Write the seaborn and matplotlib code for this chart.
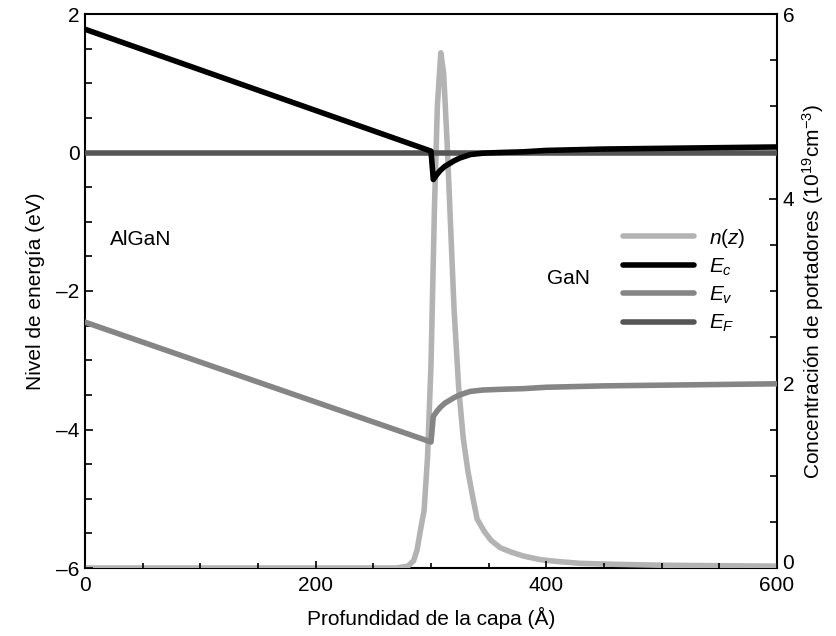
import matplotlib
matplotlib.use("Agg")
import matplotlib.pyplot as plt
import matplotlib.transforms as mtransforms
from matplotlib.ticker import MultipleLocator, FuncFormatter
import seaborn as sns

# Band edges (eV) versus depth (Å)
depth_band = [0, 300, 302, 305, 308, 312, 316, 320, 325, 334, 345, 360,
              380, 400, 450, 500, 550, 600]
ec = [1.78, 0.02, -0.39, -0.32, -0.26, -0.20, -0.16, -0.12, -0.08, -0.03,
      -0.01, 0.00, 0.01, 0.03, 0.05, 0.06, 0.07, 0.08]
ev = [-2.45, -4.18, -3.81, -3.74, -3.68, -3.62, -3.58, -3.54, -3.50, -3.45,
      -3.43, -3.42, -3.41, -3.39, -3.37, -3.36, -3.35, -3.34]
depth_ef = [0, 600]
ef = [0.0, 0.0]

# Electron concentration (1e19 cm^-3) versus depth (Å)
depth_n = [0, 270, 280, 285, 288, 291, 294, 297, 300, 303, 305.5, 308.5, 311,
           314, 317, 320, 324, 328, 332, 336, 340, 346, 352, 360, 370, 380,
           395, 410, 430, 460, 500, 550, 600]
n_z = [0, 0, 0.02, 0.08, 0.2, 0.42, 0.62, 1.2, 2.2, 3.9, 5.0, 5.58, 5.35,
       4.6, 3.7, 2.8, 1.95, 1.4, 1.05, 0.78, 0.53, 0.40, 0.30, 0.22, 0.17,
       0.13, 0.09, 0.07, 0.05, 0.04, 0.03, 0.025, 0.02]

labels = ["$n(z)$", "$E_c$", "$E_v$", "$E_F$"]
colors = ["#b3b3b3", "#000000", "#858585", "#555555"]
conc_ticks = [0, 2, 4, 6]

sns.set_theme(style="white")
plt.rcParams["font.family"] = ["Liberation Sans", "DejaVu Sans"]
plt.rcParams["mathtext.fontset"] = "custom"
plt.rcParams["mathtext.rm"] = "Liberation Sans"
plt.rcParams["mathtext.it"] = "Liberation Sans:italic"
for key in ("text.color", "axes.labelcolor", "xtick.color", "ytick.color",
            "axes.edgecolor"):
    plt.rcParams[key] = "black"

fs = 15
fig = plt.figure(figsize=(8.37, 6.36), dpi=100)
ax = fig.add_axes([85 / 837, 1 - 568 / 636, 692 / 837, 554 / 636])
ax2 = ax.twinx()
ax.set_zorder(ax2.get_zorder() + 1)
ax.patch.set_visible(False)

lw = 3.0
sns.lineplot(x=depth_n, y=n_z, ax=ax2, color=colors[0], lw=lw,
             estimator=None, label=labels[0], zorder=3)
sns.lineplot(x=depth_ef, y=ef, ax=ax, color=colors[3], lw=3.4,
             estimator=None, label=labels[3], zorder=2)
sns.lineplot(x=depth_band, y=ev, ax=ax, color=colors[2], lw=lw,
             estimator=None, label=labels[2], zorder=3)
sns.lineplot(x=depth_band, y=ec, ax=ax, color=colors[1], lw=lw,
             estimator=None, label=labels[1], zorder=4)

ax.set_xlim(0, 600)
ax.set_ylim(-6, 2)
ax2.set_ylim(0, 6)

for s in ax.spines.values():
    s.set_visible(False)
for s in ax2.spines.values():
    s.set_visible(True)
    s.set_color("black")
    s.set_linewidth(1.5)

ax.xaxis.set_major_locator(MultipleLocator(200))
ax.xaxis.set_minor_locator(MultipleLocator(50))
ax.yaxis.set_major_locator(MultipleLocator(2))
ax.yaxis.set_minor_locator(MultipleLocator(0.5))
ax.yaxis.set_major_formatter(
    FuncFormatter(lambda v, _: f"{v:.0f}".replace("-", "\u2013")))
ax2.set_yticks(conc_ticks)
ax2.yaxis.set_minor_locator(MultipleLocator(0.5))

ax.tick_params(axis="both", which="both", direction="in", colors="black",
               labelsize=fs, width=1.2, pad=4)
ax.tick_params(axis="x", which="major", length=5, bottom=True, top=False,
               pad=6)
ax.tick_params(axis="x", which="minor", length=3.5, bottom=True, top=False)
ax.tick_params(axis="y", which="major", length=6, left=True, right=False)
ax.tick_params(axis="y", which="minor", length=5, left=True, right=False)
ax2.tick_params(axis="y", which="both", direction="in", colors="black",
                labelsize=fs, width=1.2, pad=4)
ax2.tick_params(axis="y", which="major", length=6)
ax2.tick_params(axis="y", which="minor", length=5)

# lift the bottom concentration label slightly clear of the depth labels
bottom_tick = ax2.yaxis.get_major_ticks()[0]
lift = mtransforms.ScaledTranslation(0, 5 / 72, fig.dpi_scale_trans)
bottom_tick.label2.set_transform(bottom_tick.label2.get_transform() + lift)

ax.set_xlabel("Profundidad de la capa (Å)", fontsize=fs, labelpad=8)
ax.set_ylabel("Nivel de energía (eV)", fontsize=fs, labelpad=8)
ax2.set_ylabel("Concentración de portadores (10$^{19}$cm$^{-3}$)",
               fontsize=fs, labelpad=4)

ax.text(22, -1.25, "AlGaN", fontsize=fs, va="center", ha="left")
ax.text(401, -1.82, "GaN", fontsize=fs, va="center", ha="left")

# Combined legend from both axes
h1, l1 = ax.get_legend_handles_labels()
h2, l2 = ax2.get_legend_handles_labels()
ax2.get_legend().remove()
ax.get_legend().remove()
lookup = dict(zip(l1 + l2, h1 + h2))
handles = [lookup[lab] for lab in labels]
for h in handles:
    h.set_linewidth(4)
ax.legend(handles, labels, loc="upper left", bbox_to_anchor=(0.762, 0.635),
          frameon=False, fontsize=fs, handlelength=3.4,
          handletextpad=0.75, labelspacing=0.33, borderpad=0)

fig.savefig("out.png", dpi=100)
